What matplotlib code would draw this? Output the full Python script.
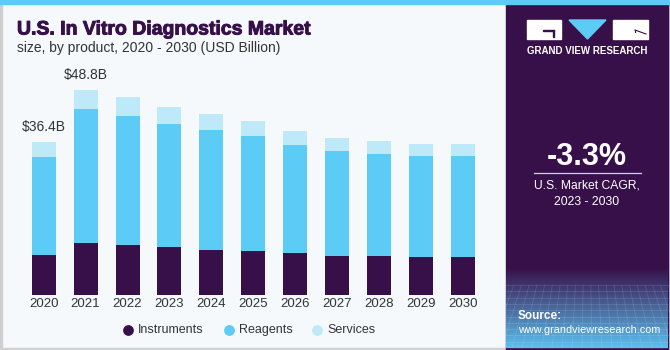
import numpy as np
import matplotlib
matplotlib.use("Agg")
import matplotlib.pyplot as plt
import matplotlib.patheffects as pe
from matplotlib.patches import Rectangle, Polygon

plt.rcParams['font.family'] = ['Liberation Sans', 'DejaVu Sans']

years = ['2020', '2021', '2022', '2023', '2024', '2025', '2026', '2027', '2028', '2029', '2030']
instruments = [9.5, 12.4, 12.0, 11.4, 10.8, 10.5, 9.9, 9.4, 9.2, 9.0, 9.0]
reagents = [23.4, 31.9, 30.6, 29.2, 28.6, 27.4, 25.8, 24.9, 24.3, 24.0, 24.0]
services = [3.5, 4.5, 4.5, 4.2, 3.7, 3.6, 3.4, 3.2, 3.1, 3.0, 3.0]
labels = {0: '$36.4B', 1: '$48.8B'}

DARK = '#37104a'
BLUE = '#5ccbf5'
LIGHT = '#bee9f9'
BG = '#f5f9fc'

W, H = 670, 350
fig = plt.figure(figsize=(6.7, 3.5), dpi=100)
fig.patch.set_facecolor(BG)

# overlay axes in pixel coords for decorations
deco = fig.add_axes([0, 0, 1, 1], zorder=0)
deco.set_xlim(0, W)
deco.set_ylim(H, 0)
deco.axis('off')

# borders
deco.add_patch(Rectangle((0, 0), 2, H, color='#d0d0d0'))
deco.add_patch(Rectangle((0, H - 2), W, 2, color='#d0d0d0'))
deco.add_patch(Rectangle((W - 2, 0), 2, H, color='#d0d0d0'))

# right panel with gradient bottom
px0, px1 = 506, 668
deco.add_patch(Rectangle((px0, 0), px1 - px0, H, color=DARK))
grad = np.linspace(0, 1, 100)[:, None]
c0 = np.array([0x37, 0x10, 0x4a]) / 255
c1 = np.array([0x5c, 0xc0, 0xee]) / 255
img = (c0[None, None, :] * (1 - grad[..., None]) + c1[None, None, :] * grad[..., None])
img = np.repeat(img, 2, axis=1)
deco.imshow(img, extent=(px0, px1, 348, 268), aspect='auto', zorder=1)
# faint grid lines
for gx in np.linspace(px0, px1, 22):
    deco.plot([gx, gx + (gx - 587) * 0.3], [285, 348], color='white', alpha=0.12, lw=0.6, zorder=2)
for gy in np.linspace(285, 348, 11):
    deco.plot([px0, px1], [gy, gy], color='white', alpha=0.12, lw=0.6, zorder=2)

deco.add_patch(Rectangle((0, 0), W, 4, color=BLUE, zorder=3))

# logo
deco.add_patch(Rectangle((527, 20), 34, 19, color='white', zorder=3))
deco.add_patch(Rectangle((543, 30), 11, 1.2, color=DARK, zorder=4))
deco.add_patch(Rectangle((553, 30), 1.2, 7, color=DARK, zorder=4))
deco.add_patch(Polygon([(569, 20), (606, 20), (587.5, 39)], color=BLUE, zorder=3))
deco.add_patch(Rectangle((613, 20), 35, 19, color='white', zorder=3))
deco.plot([635, 646], [30, 34], color=DARK, lw=0.8, zorder=4)
deco.plot([635, 635], [30, 32], color=DARK, lw=0.8, zorder=4)
deco.text(587, 51, 'GRAND VIEW RESEARCH', color='white', fontsize=7, fontweight='bold',
          ha='center', va='center', zorder=5)

deco.text(587, 157, '-3.3%', color='white', fontsize=22, fontweight='bold',
          ha='center', va='center', zorder=5)
deco.plot([534, 641], [173, 173], color='white', lw=0.9, alpha=0.8, zorder=5)
deco.text(587, 186, 'U.S. Market CAGR,', color='white', fontsize=8.7, ha='center', va='center', zorder=5)
deco.text(587, 202, '2023 - 2030', color='white', fontsize=8.7, ha='center', va='center', zorder=5)
deco.text(518, 316, 'Source:', color='white', fontsize=8.5, fontweight='bold', ha='left', va='center', zorder=5)
deco.text(518, 330, 'www.grandviewresearch.com', color='white', fontsize=7.8, ha='left', va='center', zorder=5)

# titles
deco.text(17, 30, 'U.S. In Vitro Diagnostics Market', color=DARK, fontsize=14,
          fontweight='bold', ha='left', va='center', zorder=5,
          path_effects=[pe.withStroke(linewidth=0.7, foreground=DARK)])
deco.text(17, 48, 'size, by product, 2020 - 2030 (USD Billion)', color='#333333', fontsize=10,
          ha='left', va='center', zorder=5)

# bar chart axes: baseline at 295 px, 4.2 px per billion
ax_h = 240
ax = fig.add_axes([0, (H - 295) / H, 506 / W, ax_h / H], zorder=2)
ax.patch.set_alpha(0)
x = np.arange(len(years))
spacing = 41.9
ax.set_xlim(-43.7 / spacing, (506 - 43.7) / spacing)
ax.set_ylim(0, ax_h / 4.2)

bw = 24 / spacing
inst = np.array(instruments)
reag = np.array(reagents)
serv = np.array(services)
ax.bar(x, inst, bw, color=DARK, label='Instruments')
ax.bar(x, reag, bw, bottom=inst, color=BLUE, label='Reagents')
ax.bar(x, serv, bw, bottom=inst + reag, color=LIGHT, label='Services')

totals = inst + reag + serv
for i, txt in labels.items():
    ax.text(x[i], totals[i] + 2.0, txt, ha='center', va='bottom', fontsize=10, color='#333333')

for s in ax.spines.values():
    s.set_visible(False)
ax.set_yticks([])
ax.set_xticks(x)
ax.set_xticklabels(years, fontsize=9.5, color='#333333')
ax.tick_params(axis='x', length=0, pad=2)

leg = ax.legend(loc='upper center', bbox_to_anchor=(0.49, -0.075), ncol=3, frameon=False,
                fontsize=9, handlelength=0.8, handleheight=0.8, columnspacing=1.4, handletextpad=0.6)
for h in leg.legend_handles:
    h.set_visible(False)
for txt in leg.get_texts():
    txt.set_color('#333333')

# legend circle markers drawn beside the legend texts
fig.canvas.draw()
renderer = fig.canvas.get_renderer()
inv = deco.transData.inverted()
for txt, col in zip(leg.get_texts(), [DARK, BLUE, LIGHT]):
    bb = txt.get_window_extent(renderer)
    x0, y0 = inv.transform((bb.x0, (bb.y0 + bb.y1) / 2))
    deco.scatter([x0 - 10], [y0], s=60, color=col, linewidths=0, zorder=5)

fig.savefig('out.png', dpi=100, facecolor=fig.get_facecolor())
